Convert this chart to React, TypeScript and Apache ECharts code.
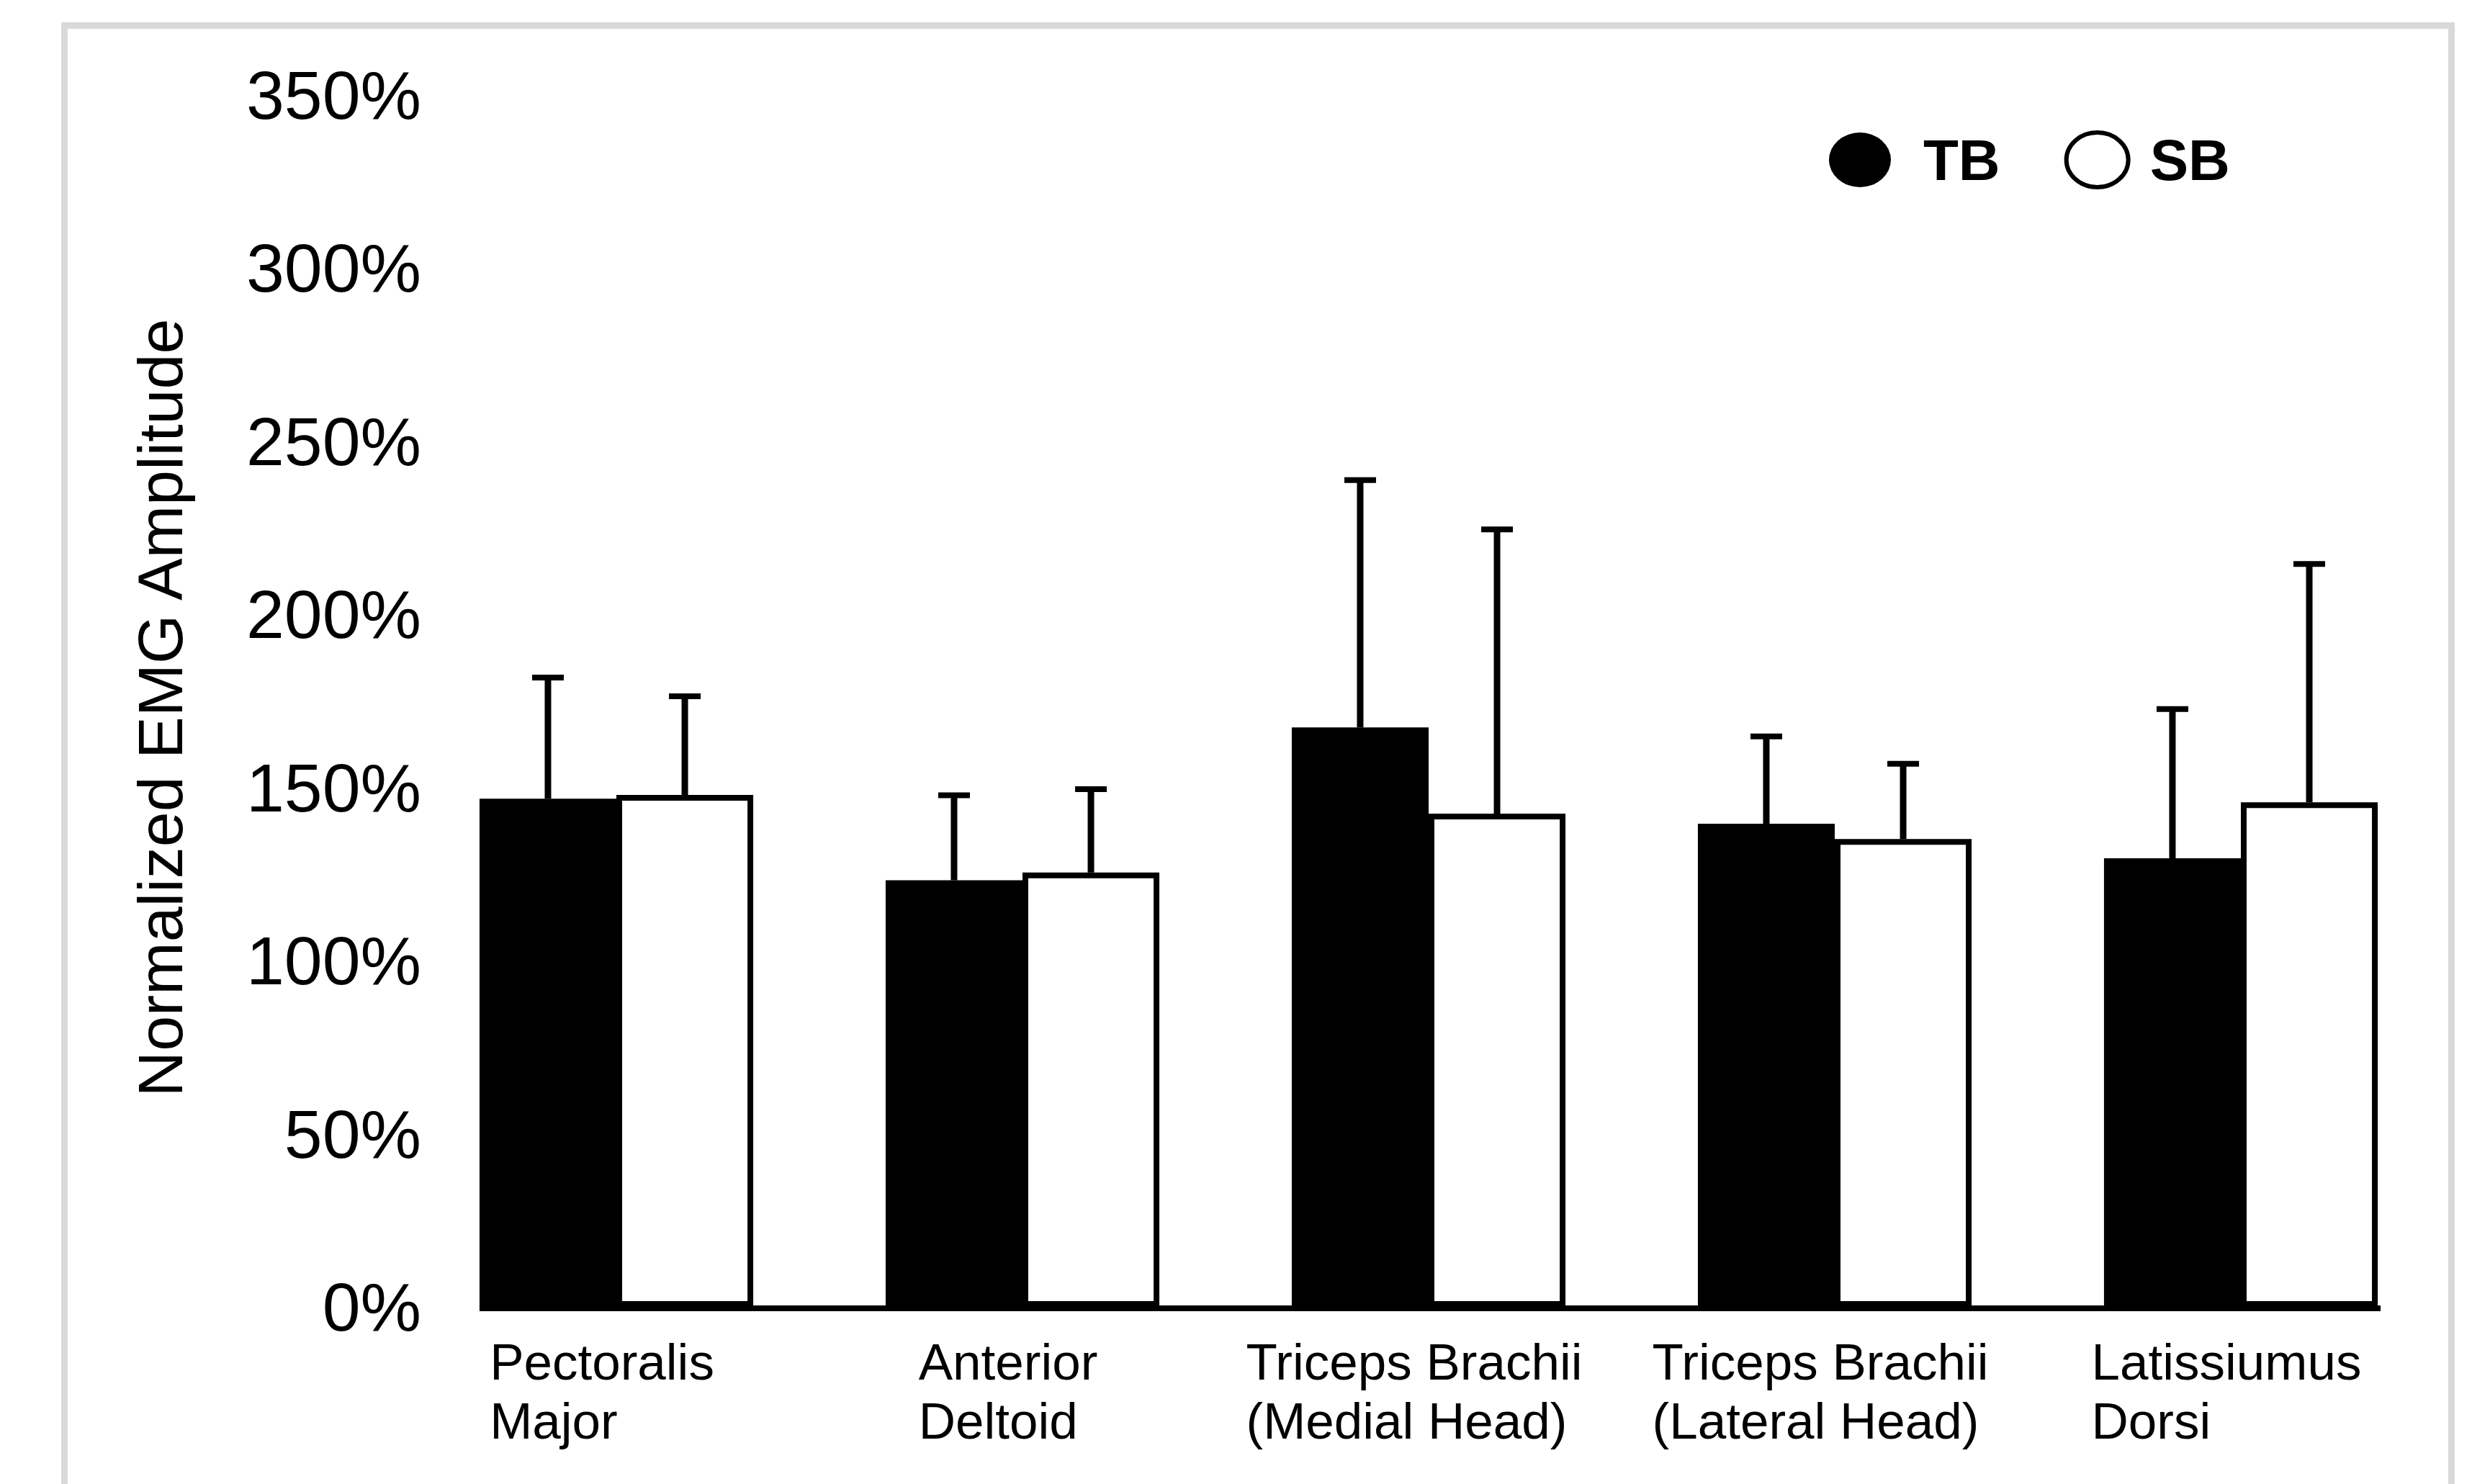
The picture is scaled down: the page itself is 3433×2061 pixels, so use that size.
import React, { useEffect, useRef } from "react";
import * as echarts from "echarts";

const categories = [
  "Pectoralis\nMajor",
  "Anterior\nDeltoid",
  "Triceps Brachii\n(Medial Head)",
  "Triceps Brachii\n(Lateral Head)",
  "Latissiumus\nDorsi",
];
const seriesNames = ["TB", "SB"];
const tbMean = [146.7, 123.2, 167.3, 139.5, 129.5];
const tbSD = [35.0, 24.5, 71.4, 25.2, 43.1];
const sbMean = [147.8, 125.4, 142.4, 135.1, 145.7];
const sbSD = [28.5, 24.1, 82.1, 21.7, 68.8];
const yMin = 0;
const yMax = 350;
const yInterval = 50;
const yTitle = "Normalized EMG Amplitude";

const FONT = 'Arial, "Liberation Sans", sans-serif';
const CAT_GAP = 0.326;
const CAP = 44;

export default function App() {
  const ref = useRef<HTMLDivElement>(null);

  useEffect(() => {
    if (!ref.current) return;
    const chart = echarts.init(ref.current, undefined, { renderer: "svg" });

    const errData = [
      ...tbMean.map((m, i) => [i, m, tbSD[i], -1]),
      ...sbMean.map((m, i) => [i, m, sbSD[i], 1]),
    ];

    const legendText = {
      fontSize: 80,
      fontWeight: "bold",
      fontFamily: FONT,
      color: "#000",
    };

    chart.setOption({
      animation: false,
      backgroundColor: "#ffffff",
      grid: { left: 574, right: 39, top: 131.5, bottom: 246, containLabel: false },
      legend: {
        left: 2535,
        top: 176,
        itemWidth: 86,
        itemHeight: 76,
        itemGap: 89,
        icon: "path://M0,38 A43,38 0 1,1 86,38 A43,38 0 1,1 0,38 Z",
        data: [
          { name: seriesNames[0], textStyle: { ...legendText, padding: [0, 0, 0, 40] } },
          {
            name: seriesNames[1],
            itemStyle: { borderWidth: 6 },
            textStyle: { ...legendText, padding: [0, 0, 0, 25] },
          },
        ],
        textStyle: legendText,
      },
      xAxis: {
        type: "category",
        data: categories,
        axisLine: { show: false },
        axisTick: { show: false },
        splitLine: { show: false },
        axisLabel: {
          interval: 0,
          margin: 35,
          align: "center",
          padding: [0, 40, 0, 0],
          formatter: (v: string) =>
            v
              .split("\n")
              .map((l) => `{a|${l}}`)
              .join("\n"),
          rich: {
            a: {
              fontSize: 71,
              lineHeight: 82,
              fontFamily: FONT,
              color: "#000",
              align: "left",
            },
          },
        },
      },
      yAxis: {
        type: "value",
        min: yMin,
        max: yMax,
        interval: yInterval,
        axisLine: { show: false },
        axisTick: { show: false },
        splitLine: { show: false },
        axisLabel: {
          formatter: "{value}%",
          margin: -11,
          fontSize: 95,
          fontFamily: FONT,
          color: "#000",
        },
      },
      series: [
        {
          name: seriesNames[0],
          type: "bar",
          data: tbMean,
          barCategoryGap: CAT_GAP * 100 + "%",
          barGap: "0%",
          itemStyle: { color: "#000", borderColor: "#000", borderWidth: 0 },
        },
        {
          name: seriesNames[1],
          type: "bar",
          data: sbMean,
          barCategoryGap: CAT_GAP * 100 + "%",
          barGap: "0%",
          itemStyle: { color: "#fff", borderColor: "#000", borderWidth: 8 },
        },
        {
          name: "err",
          type: "custom",
          data: errData,
          z: 5,
          renderItem: (params: any, api: any) => {
            const i = api.value(0);
            const m = api.value(1);
            const sd = api.value(2);
            const side = api.value(3);
            const base = api.coord([i, m]);
            const top = api.coord([i, m + sd]);
            const band = api.size([1, 0])[0];
            const barW = (band * (1 - CAT_GAP)) / 2;
            const x = base[0] + (side * barW) / 2;
            return {
              type: "group",
              children: [
                {
                  type: "line",
                  shape: { x1: x, y1: base[1], x2: x, y2: top[1] },
                  style: { stroke: "#000", lineWidth: 9 },
                },
                {
                  type: "line",
                  shape: { x1: x - CAP / 2, y1: top[1], x2: x + CAP / 2, y2: top[1] },
                  style: { stroke: "#000", lineWidth: 8 },
                },
              ],
            };
          },
        },
      ],
    });

    const p0 = chart.convertToPixel({ gridIndex: 0 }, [0, 0]) as number[];
    const p4 = chart.convertToPixel({ gridIndex: 0 }, [categories.length - 1, 0]) as number[];
    const band = (p4[0] - p0[0]) / (categories.length - 1);
    const half = (band * (1 - CAT_GAP)) / 2;

    chart.setOption({
      graphic: [
        {
          type: "rect",
          z: -10,
          silent: true,
          shape: { x: 89.5, y: 35.5, width: 3315, height: 2200 },
          style: { fill: "none", stroke: "#d9d9d9", lineWidth: 9 },
        },
        {
          type: "line",
          z: 10,
          silent: true,
          shape: { x1: p0[0] - half, y1: p0[1] + 2, x2: p4[0] + half + 4, y2: p0[1] + 2 },
          style: { stroke: "#000", lineWidth: 8 },
        },
        {
          type: "text",
          x: 222,
          y: 983,
          rotation: Math.PI / 2,
          style: {
            text: yTitle,
            fontSize: 88,
            fontFamily: FONT,
            fill: "#000",
            align: "center",
            verticalAlign: "middle",
          },
        },
      ],
    });

    return () => chart.dispose();
  }, []);

  return (
    <div
      ref={ref}
      style={{ position: "fixed", left: 0, top: 0, width: 3433, height: 2061, background: "#fff" }}
    />
  );
}
